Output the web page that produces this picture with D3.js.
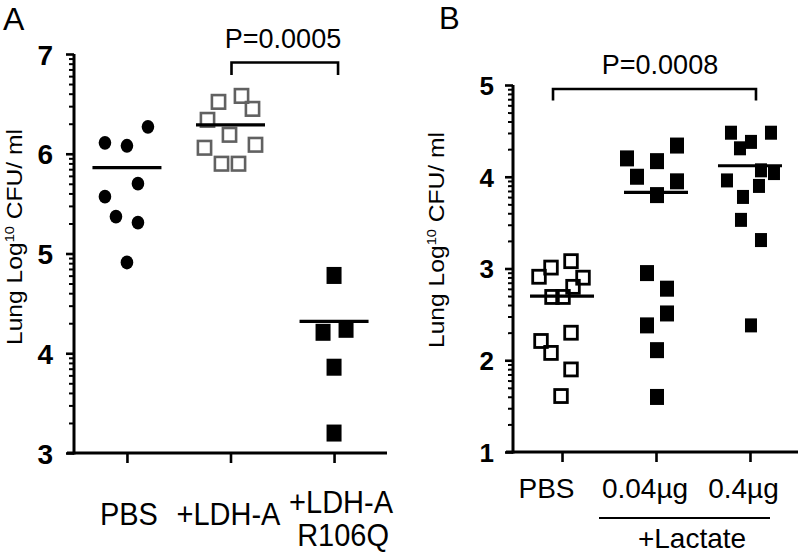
<!DOCTYPE html>
<html>
<head>
<meta charset="utf-8">
<script src="https://cdn.jsdelivr.net/npm/d3@7"></script>
<style>
  html, body { margin: 0; padding: 0; background: #fff; }
  svg { display: block; }
  text { font-family: "Liberation Sans", Arial, Helvetica, sans-serif; fill: #000; }
</style>
</head>
<body>
<svg id="chart" width="800" height="553"></svg>
<script>
// ---------------- DATA ----------------
// Panel A
const catsA = ["PBS", "+LDH-A", "+LDH-A R106Q"];
const yTicksA = [3, 4, 5, 6, 7];
const aPBS = [6.27, 6.11, 6.08, 5.70, 5.57, 5.37, 5.31, 4.91];
const aPBSJitter = [21, -22, 0, 11, -22, -11, 11, 0];
const aLDH = [6.52, 6.58, 6.45, 6.34, 6.19, 6.06, 6.09, 5.90, 5.90];
const aLDHJitter = [-12, 11, 22, -23, -1, -26, 25, -9, 8];
const aR106Q = [4.78, 4.21, 4.24, 3.86, 3.20];
const aR106QJitter = [0, -11, 12, 0, 0];
const aMeans = [5.86, 6.29, 4.32];
const pA = "P=0.0005";

// Panel B
const catsB = ["PBS", "0.04µg", "0.4µg"];
const yTicksB = [1, 2, 3, 4, 5];
const bPBS = [3.08, 3.01, 2.90, 2.91, 2.80, 2.69, 2.69, 2.30, 2.21, 2.08, 1.90, 1.61];
const bPBSJitter = [9, -11, 21, -23, 11, -10, 1, 9, -21, -11, 9, -1];
const b004 = [4.20, 4.00, 4.17, 4.34, 3.95, 3.80, 2.95, 2.78, 2.51, 2.38, 2.11, 1.60];
const b004Jitter = [-29, -19, 1, 21, 21, 1, -9, 11, 11, -9, 1, 1];
const b04 = [4.48, 4.48, 4.31, 4.38, 4.07, 4.04, 3.96, 3.90, 3.78, 3.53, 3.31, 2.38];
const b04Jitter = [-19, 21, -10, 1, 11, 24, -23, 9, -7, -9, 11, 1];
const bMeans = [2.70, 3.83, 4.12];
const pB = "P=0.0008";
const groupLabelB = "+Lactate";

// ---------------- DRAW ----------------
const svg = d3.select("#chart");

function minorValues(ticks) {
  const out = [];
  for (let i = 0; i < ticks.length - 1; i++) {
    for (let k = 2; k <= 9; k++) out.push(ticks[i] + Math.log10(k));
  }
  return out;
}

function drawYAxis(g, y, axisX, ticks, labelSize, labelRight) {
  const minor = g.append("g").attr("transform", `translate(${axisX},0)`)
    .call(d3.axisLeft(y).tickValues(minorValues(ticks)).tickSize(5).tickFormat(""));
  minor.select(".domain").remove();
  minor.selectAll(".tick line").attr("stroke", "#000").attr("stroke-width", 2);
  const major = g.append("g").attr("transform", `translate(${axisX},0)`)
    .call(d3.axisLeft(y).tickValues(ticks).tickSize(8).tickSizeOuter(0).tickFormat(d3.format("d")));
  major.attr("font-size", labelSize).attr("font-family", '"Liberation Sans", Arial, sans-serif');
  major.select(".domain").attr("stroke", "#000").attr("stroke-width", 3)
    .attr("d", `M0,${y(ticks[ticks.length - 1])}V${y(ticks[0]) + 1.5}`);
  major.selectAll(".tick line").attr("stroke", "#000").attr("stroke-width", 2.6);
  major.selectAll(".tick text")
    .attr("x", labelRight - axisX)
    .attr("dy", "0.36em")
    .style("font-size", labelSize + "px")
    .style("font-weight", "bold")
    .attr("text-anchor", "end")
    .attr("fill", "#000");
}

function drawXAxis(g, x, axisY, x0, x1) {
  const ax = g.append("g").attr("transform", `translate(0,${axisY})`)
    .call(d3.axisBottom(x).tickSize(10).tickSizeOuter(0).tickFormat(""));
  ax.select(".domain").remove();
  ax.selectAll(".tick line").attr("stroke", "#000").attr("stroke-width", 2.6);
  g.append("line").attr("x1", x0).attr("x2", x1).attr("y1", axisY).attr("y2", axisY)
    .attr("stroke", "#000").attr("stroke-width", 3);
}

function yTitle(g, cx, cy) {
  const t = g.append("text")
    .attr("transform", `translate(${cx},${cy}) rotate(-90) scale(1.12,1)`)
    .attr("text-anchor", "middle")
    .style("font-size", "22px");
  t.append("tspan").text("Lung Log");
  t.append("tspan").style("font-size", "13px").attr("dy", -8).text("10");
  t.append("tspan").attr("dy", 8).text(" CFU/ ml");
}

function meanLines(g, x, y, cats, means, halfW) {
  g.selectAll(null).data(means).join("line")
    .attr("x1", (d, i) => x(cats[i]) - halfW)
    .attr("x2", (d, i) => x(cats[i]) + halfW)
    .attr("y1", d => y(d)).attr("y2", d => y(d))
    .attr("stroke", "#000").attr("stroke-width", 3.2);
}

function bracket(g, xl, xr, yTop, yBot, label, labelX, labelY) {
  g.append("path")
    .attr("d", `M${xl},${yBot}V${yTop}H${xr}V${yBot}`)
    .attr("fill", "none").attr("stroke", "#000").attr("stroke-width", 2.6);
  g.append("text").attr("x", labelX).attr("y", labelY)
    .attr("text-anchor", "middle").style("font-size", "27px").text(label);
}

// ===== Panel A =====
const gA = svg.append("g");
const yA = d3.scaleLinear().domain([3, 7]).range([453, 54]);
const xA = d3.scalePoint().domain(catsA).range([70, 391]).padding(0.55);

gA.append("text").attr("x", 3).attr("y", 30).style("font-size", "32px").text("A");
drawYAxis(gA, yA, 74, yTicksA, 28, 53);
drawXAxis(gA, xA, 453, 67, 387);
yTitle(gA, 22, 237);

gA.selectAll(null).data(aPBS).join("ellipse")
  .attr("cx", (d, i) => xA(catsA[0]) + aPBSJitter[i])
  .attr("cy", d => yA(d))
  .attr("rx", 6.3).attr("ry", 6.9)
  .attr("fill", "#000");
gA.selectAll(null).data(aLDH).join("rect")
  .attr("x", (d, i) => xA(catsA[1]) + aLDHJitter[i] - 6.6)
  .attr("y", d => yA(d) - 6.8)
  .attr("width", 13.2).attr("height", 13.6)
  .attr("fill", "none").attr("stroke", "#616161").attr("stroke-width", 2.6);
gA.selectAll(null).data(aR106Q).join("rect")
  .attr("x", (d, i) => xA(catsA[2]) + aR106QJitter[i] - 7.5)
  .attr("y", d => yA(d) - 8.5)
  .attr("width", 15).attr("height", 17)
  .attr("fill", "#000");
meanLines(gA, xA, yA, catsA, aMeans, 34.5);
bracket(gA, xA(catsA[1]) + 1, xA(catsA[2]) + 4, 62.5, 75, pA, 283, 48);

// x labels A
const labA = gA.append("g");
function labelA(txt, x, y) {
  labA.append("text").attr("transform", `translate(${x},${y}) scale(1,1.1)`)
    .attr("text-anchor", "middle").style("font-size", "29px").text(txt);
}
const parts = catsA[2].split(" ");
labelA(catsA[0], xA(catsA[0]) + 2, 525);
labelA(catsA[1], xA(catsA[1]) - 2, 525);
labelA(parts[0], xA(catsA[2]) + 7, 513);
labelA(parts[1], xA(catsA[2]) + 9, 546);

// ===== Panel B =====
const gB = svg.append("g");
const yB = d3.scaleLinear().domain([1, 5]).range([452, 85]);
const xB = d3.scalePoint().domain(catsB).range([506, 806]).padding(0.596);

gB.append("text").attr("x", 439).attr("y", 29).style("font-size", "31px").text("B");
drawYAxis(gB, yB, 513, yTicksB, 26, 494);
drawXAxis(gB, xB, 452, 506, 798);
yTitle(gB, 444, 240);

gB.selectAll(null).data(bPBS).join("rect")
  .attr("x", (d, i) => xB(catsB[0]) + bPBSJitter[i] - 6.3)
  .attr("y", d => yB(d) - 6.5)
  .attr("width", 12.6).attr("height", 13)
  .attr("fill", "none").attr("stroke", "#000").attr("stroke-width", 2.8);
gB.selectAll(null).data(b004).join("rect")
  .attr("x", (d, i) => xB(catsB[1]) + b004Jitter[i] - 7)
  .attr("y", d => yB(d) - 8)
  .attr("width", 14).attr("height", 16)
  .attr("fill", "#000");
gB.selectAll(null).data(b04).join("rect")
  .attr("x", (d, i) => xB(catsB[2]) + b04Jitter[i] - 6)
  .attr("y", d => yB(d) - 7)
  .attr("width", 12).attr("height", 14)
  .attr("fill", "#000");
meanLines(gB, xB, yB, catsB, bMeans, 32);
bracket(gB, xB(catsB[0]) - 9, xB(catsB[2]) + 6, 89, 100.5, pB, 660, 74);

// x labels B
const labB = gB.append("g").attr("text-anchor", "middle").style("font-size", "28px");
labB.append("text").attr("x", xB(catsB[0]) - 15.5).attr("y", 498).text(catsB[0]);
labB.append("text").attr("x", xB(catsB[1]) - 11).attr("y", 498).text(catsB[1]);
labB.append("text").attr("x", xB(catsB[2]) - 6.5).attr("y", 498).text(catsB[2]);
gB.append("line").attr("x1", 599).attr("x2", 770).attr("y1", 518).attr("y2", 518)
  .attr("stroke", "#000").attr("stroke-width", 2.2);
labB.append("text").attr("x", 692).attr("y", 548).text(groupLabelB);
</script>
</body>
</html>
